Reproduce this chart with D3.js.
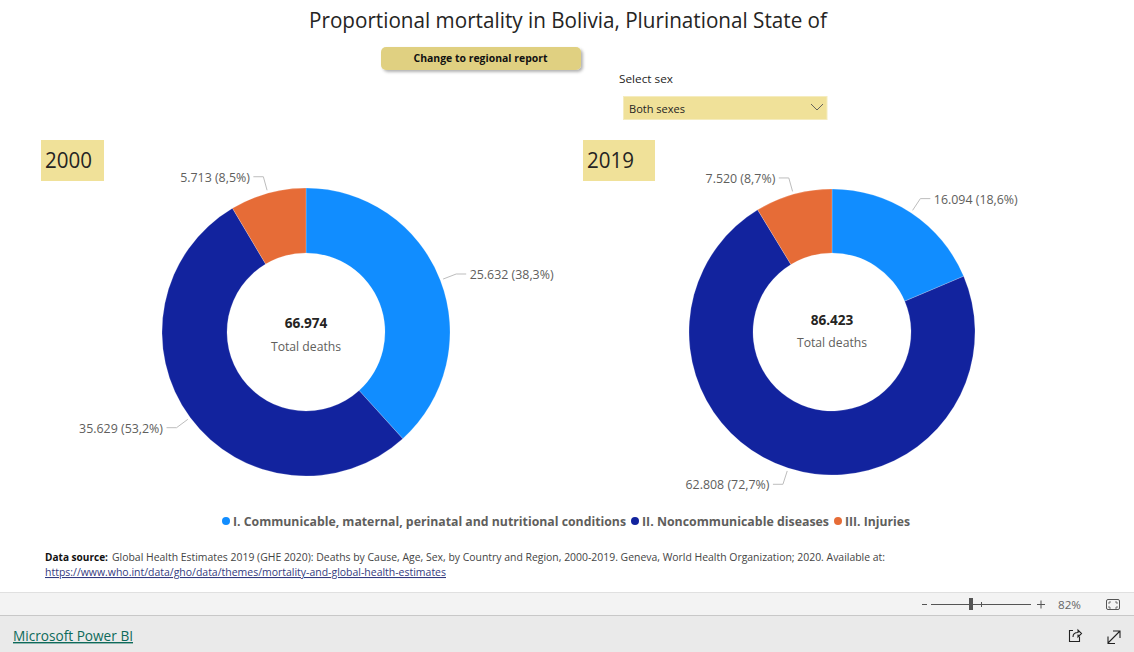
<!DOCTYPE html>
<html>
<head>
<meta charset="utf-8">
<title>Proportional mortality</title>
<script src="https://cdn.jsdelivr.net/npm/d3@7"></script>
<style>
  html, body { margin: 0; padding: 0; background: #fff; overflow: hidden; }
  text { font-family: "Open Sans", "Noto Sans", sans-serif; }
</style>
</head>
<body>
<div id="report"></div>
<script>
var categories = [
  "I. Communicable, maternal, perinatal and nutritional conditions",
  "II. Noncommunicable diseases",
  "III. Injuries"
];
var colors = ["#118DFF", "#12239E", "#E66C37"];
var years = ["2000", "2019"];
var deaths2000 = [25632, 35629, 5713];
var deaths2019 = [16094, 62808, 7520];
var totals = [66974, 86423];

var W = 1134, H = 652;
var locale = d3.formatLocale({decimal: ",", thousands: ".", grouping: [3], currency: ["", ""]});
var fmtInt = locale.format(",d");
var fmtPct = locale.format(".1f");

var svg = d3.select("#report").append("svg")
  .attr("width", W)
  .attr("height", H)
  .style("display", "block");

var defs = svg.append("defs");
var shadow = defs.append("filter").attr("id", "btnShadow")
  .attr("x", "-10%").attr("y", "-30%").attr("width", "125%").attr("height", "180%");
shadow.append("feDropShadow")
  .attr("dx", 2).attr("dy", 2).attr("stdDeviation", 1.6)
  .attr("flood-color", "#000").attr("flood-opacity", 0.3);

// small helper, textLength keeps the widths of the original font
function label(x, y, str, size, fill, width) {
  var t = svg.append("text")
    .attr("x", x).attr("y", y)
    .attr("font-size", size)
    .attr("fill", fill)
    .text(str);
  if (width) t.attr("textLength", width).attr("lengthAdjust", "spacingAndGlyphs");
  return t;
}

// header
label(309, 28, "Proportional mortality in Bolivia, Plurinational State of", 22, "#252423", 518);

svg.append("rect")
  .attr("x", 381).attr("y", 47).attr("width", 200).attr("height", 23).attr("rx", 5)
  .attr("fill", "#E0D081")
  .attr("filter", "url(#btnShadow)");
label(413.5, 62, "Change to regional report", 11, "#111", 134).attr("font-weight", 700);

label(619, 83, "Select sex", 11, "#252423", 54);
svg.append("rect")
  .attr("x", 623.5).attr("y", 96.5).attr("width", 203.5).attr("height", 23)
  .attr("fill", "#F0E199").attr("stroke", "#F5ECBE");
label(629, 113, "Both sexes", 11, "#252423", 56);
svg.append("path")
  .attr("d", "M811,104L817,110L823,104")
  .attr("fill", "none").attr("stroke", "#555").attr("stroke-width", 0.9);

// donuts
var charts = [
  {values: deaths2000, cx: 306, cy: 332, outerR: 144, boxX: 41, boxW: 63, totalY: 328, subY: 351},
  {values: deaths2019, cx: 832, cy: 332, outerR: 143, boxX: 583, boxW: 72, totalY: 325, subY: 347}
];
var innerR = 79;
var pie = d3.pie().sort(null).value(function(d) { return d; });

charts.forEach(function(c, i) {
  svg.append("rect")
    .attr("x", c.boxX).attr("y", 140).attr("width", c.boxW).attr("height", 41)
    .attr("fill", "#F0E199");
  label(c.boxX + 4, 168, years[i], 22, "#252423", 47);

  var arc = d3.arc().innerRadius(innerR).outerRadius(c.outerR);
  var g = svg.append("g").attr("transform", "translate(" + c.cx + "," + c.cy + ")");
  var slices = pie(c.values);
  var elbowR = c.outerR + 17;

  g.selectAll("path.slice")
    .data(slices)
    .enter()
    .append("path")
      .attr("class", "slice")
      .attr("fill", function(d) { return colors[d.index]; })
      .attr("stroke", "#fff")
      .attr("stroke-width", 0.2)
      .attr("d", arc);

  // leader lines + labels
  function mid(d) { return (d.startAngle + d.endAngle) / 2; }
  function px(d, r) { return Math.sin(mid(d)) * r; }
  function py(d, r) { return -Math.cos(mid(d)) * r; }
  function side(d) { return px(d, 1) >= 0 ? 1 : -1; }

  g.selectAll("path.leader")
    .data(slices)
    .enter()
    .append("path")
      .attr("class", "leader")
      .attr("fill", "none")
      .attr("stroke", "#BDBDBD")
      .attr("d", function(d) {
        return d3.line()([
          [px(d, c.outerR + 3), py(d, c.outerR + 3)],
          [px(d, elbowR), py(d, elbowR)],
          [px(d, elbowR) + side(d) * 10, py(d, elbowR)]
        ]);
      });

  g.selectAll("text.value")
    .data(slices)
    .enter()
    .append("text")
      .attr("class", "value")
      .attr("x", function(d) { return px(d, elbowR) + side(d) * 13.5; })
      .attr("y", function(d) { return py(d, elbowR) + 5; })
      .attr("text-anchor", function(d) { return side(d) > 0 ? "start" : "end"; })
      .attr("font-size", 12.4)
      .attr("fill", "#605E5C")
      .text(function(d) {
        return fmtInt(d.value) + " (" + fmtPct(d.value / totals[i] * 100) + "%)";
      });

  svg.append("text")
    .attr("x", c.cx).attr("y", c.totalY)
    .attr("text-anchor", "middle")
    .attr("font-size", 13.6).attr("font-weight", 700)
    .attr("fill", "#252423")
    .text(fmtInt(totals[i]));
  svg.append("text")
    .attr("x", c.cx).attr("y", c.subY)
    .attr("text-anchor", "middle")
    .attr("font-size", 12.2)
    .attr("fill", "#605E5C")
    .text("Total deaths");
});

// legend
var legendPos = [
  {dot: 226, text: 233, width: 393},
  {dot: 635, text: 642, width: 187},
  {dot: 838, text: 845, width: 65}
];
categories.forEach(function(name, i) {
  svg.append("circle")
    .attr("cx", legendPos[i].dot).attr("cy", 521).attr("r", 4)
    .attr("fill", colors[i]);
  label(legendPos[i].text, 526, name, 12, "#605E5C", legendPos[i].width).attr("font-weight", 700);
});

// data source
label(45, 561, "Data source:", 10.5, "#111", 63).attr("font-weight", 700);
label(112, 561, "Global Health Estimates 2019 (GHE 2020): Deaths by Cause, Age, Sex, by Country and Region, 2000-2019. Geneva, World Health Organization; 2020. Available at:", 10.5, "#444", 773);
label(45, 576, "https://www.who.int/data/gho/data/themes/mortality-and-global-health-estimates", 10.5, "#333A80", 401)
  .attr("text-decoration", "underline");

// power bi footer
svg.append("rect").attr("x", 0).attr("y", 592).attr("width", W).attr("height", 24).attr("fill", "#F3F3F3");
svg.append("rect").attr("x", 0).attr("y", 616).attr("width", W).attr("height", 36).attr("fill", "#EAEAEA");
svg.append("rect").attr("x", 0).attr("y", 592).attr("width", W).attr("height", 1).attr("fill", "#E0E0E0");
svg.append("rect").attr("x", 0).attr("y", 615).attr("width", W).attr("height", 1).attr("fill", "#C8C8C8");

label(13, 641, "Microsoft Power BI", 14, "#0E6A5A", 120).attr("text-decoration", "underline");

// zoom slider
var toolbar = svg.append("g").attr("fill", "none").attr("stroke", "#555");
toolbar.append("path").attr("d", "M922,604.5H927M931,604.5H1031M981.5,602V607M1037,604.5H1045M1041,600.5V608.5");
toolbar.append("rect").attr("x", 969).attr("y", 598).attr("width", 4).attr("height", 12).attr("fill", "#555").attr("stroke", "none");
label(1058, 609, "82%", 11.5, "#666", 23);
toolbar.append("rect").attr("x", 1106.5).attr("y", 599.5).attr("width", 13).attr("height", 10).attr("rx", 1.5);
toolbar.append("path").attr("d", "M1109,604V602H1111M1115,602H1117V604M1117,606V608H1115M1111,608H1109V606").attr("stroke-width", 0.8);

// share and expand icons
var icons = svg.append("g").attr("fill", "none").attr("stroke", "#222").attr("stroke-width", 1.1);
icons.append("path").attr("d", "M1073,630.5H1069.5V641.5H1079.5V636.5");
icons.append("path").attr("d", "M1073,637C1073,633.5 1075.5,632.5 1078,632.5V630L1081.5,633.5L1078,637V634.5");
icons.append("path").attr("d", "M1108,643L1119.5,631.5M1113,631H1120V638M1108,636.5V643.5H1115");
</script>
</body>
</html>
